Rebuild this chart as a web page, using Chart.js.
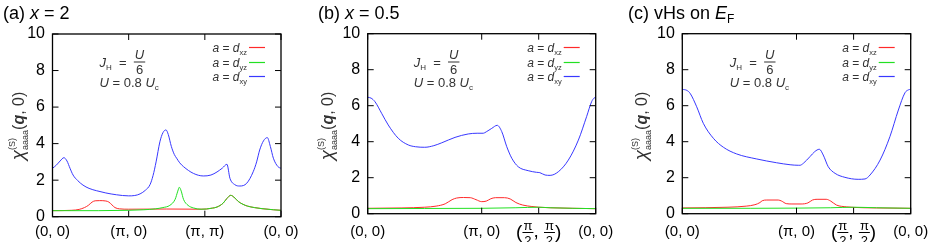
<!DOCTYPE html>
<html>
<head>
<meta charset="utf-8">
<script src="https://cdn.jsdelivr.net/npm/chart.js@4.4.1/dist/chart.umd.min.js"></script>
<style>
  body { margin: 0; background: #fff; width: 937px; height: 242px; overflow: hidden; position: relative; }
  canvas { position: absolute; top: 0; }
</style>
</head>
<body>
<canvas id="pa" width="312" height="242" style="left:0"></canvas>
<canvas id="pb" width="313" height="242" style="left:312px"></canvas>
<canvas id="pc" width="312" height="242" style="left:625px"></canvas>
<script>
// ---- data (q = position along the k-path, v = chi) ----
// (a) x = 2   path (0,0) -> (pi,0) -> (pi,pi) -> (0,0)
const aTicks = [0, 1, 2, 3];
const aTickLabels = ['(0, 0)', '(π, 0)', '(π, π)', '(0, 0)'];
const aXyQ = [0,0.05,0.10,0.15,0.19,0.23,0.27,0.33,0.40,0.48,0.58,0.70,0.84,1.0,1.08,1.15,1.22,1.28,1.32,1.36,1.41,1.45,1.49,1.52,1.56,1.60,1.63,1.67,1.72,1.85,1.98,2.08,2.16,2.23,2.29,2.33,2.395,2.46,2.55,2.635,2.68,2.72,2.77,2.82,2.86,2.90,2.96,3.0];
const aXyV = [2.65,2.82,3.05,3.23,3.05,2.65,2.28,1.98,1.73,1.55,1.42,1.3,1.2,1.14,1.16,1.25,1.45,1.75,2.25,3.0,4.1,4.6,4.75,4.5,3.85,3.4,3.2,2.95,2.74,2.37,2.23,2.28,2.45,2.66,2.87,2.1,1.75,1.68,1.83,2.46,3.0,3.65,4.15,4.33,3.85,3.2,2.74,2.65];
const aXzQ = [0,0.25,0.35,0.42,0.47,0.52,0.56,0.62,0.70,0.74,0.78,0.82,0.88,1.0,1.5,1.95,2.02,2.1,2.16,2.24,2.29,2.34,2.38,2.44,2.5,2.56,2.65,2.75,2.9,3.0];
const aXzV = [0.33,0.35,0.4,0.5,0.62,0.8,0.87,0.88,0.86,0.8,0.65,0.5,0.43,0.41,0.42,0.41,0.42,0.47,0.53,0.74,1.0,1.17,1.08,0.83,0.68,0.58,0.5,0.44,0.38,0.35];
const aYzQ = [0,0.6,1.0,1.2,1.35,1.45,1.54,1.61,1.645,1.665,1.69,1.72,1.78,1.85,1.95,2.02,2.1,2.16,2.24,2.29,2.34,2.38,2.44,2.5,2.56,2.65,2.75,2.9,3.0];
const aYzV = [0.33,0.33,0.35,0.38,0.43,0.5,0.62,0.95,1.4,1.61,1.4,0.95,0.62,0.48,0.41,0.42,0.47,0.53,0.74,1.0,1.17,1.08,0.83,0.68,0.58,0.5,0.44,0.38,0.35];

// (b) x = 0.5   path (0,0) -> (pi,0) -> (pi/2,pi/2) -> (0,0)
const bcTicks = [0, 1, 1.5, 2];
const bcTickLabels = ['(0, 0)', '(π, 0)', 'frac', '(0, 0)'];
const bXyQ = [0,0.03,0.064,0.122,0.18,0.268,0.356,0.42,0.50,0.58,0.65,0.766,0.882,0.96,1.014,1.04,1.088,1.136,1.176,1.22,1.264,1.32,1.408,1.48,1.51,1.556,1.60,1.672,1.76,1.848,1.92,1.964,1.985,2.0];
const bXyV = [6.47,6.42,6.22,5.58,4.93,4.19,3.82,3.72,3.69,3.78,3.94,4.24,4.43,4.47,4.47,4.55,4.74,4.91,4.56,3.72,3.08,2.61,2.39,2.3,2.28,2.15,2.13,2.33,2.98,4.09,5.39,6.22,6.42,6.47];
const bXzQ = [0,0.3,0.5,0.6,0.68,0.74,0.78,0.84,0.9,0.95,1.0,1.04,1.08,1.12,1.2,1.25,1.3,1.36,1.44,1.5,1.6,1.8,2.0];
const bXzV = [0.3,0.32,0.36,0.42,0.55,0.78,0.87,0.9,0.89,0.78,0.67,0.7,0.83,0.89,0.89,0.82,0.62,0.48,0.4,0.36,0.33,0.3,0.28];
const bYzQ = [0,0.5,1.0,1.3,1.5,1.6,1.8,2.0];
const bYzV = [0.28,0.29,0.3,0.33,0.36,0.33,0.3,0.28];

// (c) vHs on E_F
const cXyQ = [0,0.04,0.068,0.126,0.184,0.272,0.36,0.476,0.652,0.826,0.944,1.016,1.03,1.06,1.118,1.16,1.20,1.234,1.278,1.338,1.424,1.54,1.60,1.644,1.732,1.818,1.892,1.95,1.98,2.0];
const cXyV = [6.91,6.85,6.69,5.94,5.02,4.19,3.69,3.32,3.04,2.83,2.72,2.69,2.69,2.8,3.17,3.45,3.58,3.26,2.61,2.24,2.02,1.91,1.93,2.15,2.98,4.28,5.76,6.72,6.88,6.91];
const cXzQ = [0,0.4,0.56,0.636,0.68,0.70,0.74,0.84,0.87,0.91,0.96,1.04,1.1,1.14,1.18,1.26,1.3,1.35,1.44,1.5,1.7,2.0];
const cXzV = [0.32,0.36,0.42,0.5,0.62,0.72,0.76,0.76,0.7,0.56,0.54,0.54,0.6,0.76,0.8,0.8,0.7,0.48,0.38,0.35,0.32,0.3];
const cYzQ = [0,0.6,1.0,1.3,1.5,1.7,2.0];
const cYzV = [0.3,0.3,0.31,0.33,0.36,0.33,0.3];

const orbitals = ['xz', 'yz', 'xy'];
const colors = ['#ff2a2a', '#22e022', '#3838ff'];

const LS = 'Liberation Sans';
const txt = '#333';

function pts(q, v) { return q.map((x, i) => ({ x: x, y: v[i] })); }

// draw a run of text pieces: {t, f, dy, stay}
function rich(ctx, x, y, parts, align) {
  let w = 0;
  parts.forEach(p => { ctx.font = p.f; p.w = ctx.measureText(p.t).width; if (!p.stay) w += p.w; });
  if (align === 'right') x -= w;
  if (align === 'center') x -= w / 2;
  parts.forEach(p => {
    ctx.font = p.f;
    ctx.fillText(p.t, x, y + (p.dy || 0));
    if (!p.stay) x += p.w;
  });
  return w;
}

function frac(ctx, x, barY, num, den, fNum, fDen, gap, dh) {
  ctx.font = fNum; const wn = ctx.measureText(num).width;
  ctx.font = fDen; const wd = ctx.measureText(den).width;
  const w = Math.max(wn, wd) + 2;
  ctx.textAlign = 'center';
  ctx.font = fNum; ctx.fillText(num, x + w / 2, barY - gap);
  ctx.font = fDen; ctx.fillText(den, x + w / 2, barY + gap + dh);
  ctx.textAlign = 'left';
  ctx.fillRect(x, barY - 0.5, w, 1);
  return w;
}

function deco(p) {
  return {
    id: 'deco',
    afterDraw(chart) {
      const ctx = chart.ctx, a = chart.chartArea, xs = chart.scales.x, ys = chart.scales.y;
      ctx.save();
      // frame + inward ticks on all four sides
      ctx.strokeStyle = '#000';
      ctx.lineWidth = 1.3;
      ctx.strokeRect(a.left, a.top, a.right - a.left, a.bottom - a.top);
      ctx.lineWidth = 1;
      ctx.beginPath();
      ys.ticks.forEach(t => {
        const y = ys.getPixelForValue(t.value);
        ctx.moveTo(a.left, y); ctx.lineTo(a.left + 6, y);
        ctx.moveTo(a.right, y); ctx.lineTo(a.right - 6, y);
      });
      p.ticks.forEach(v => {
        const x = xs.getPixelForValue(v);
        ctx.moveTo(x, a.bottom); ctx.lineTo(x, a.bottom - 6);
        ctx.moveTo(x, a.top); ctx.lineTo(x, a.top + 6);
      });
      ctx.stroke();

      // x tick labels
      ctx.fillStyle = '#000';
      ctx.textBaseline = 'alphabetic';
      p.ticks.forEach((v, i) => {
        const x = xs.getPixelForValue(v);
        const lab = p.labels[i];
        if (lab === 'frac') {
          const big = '19px ' + LS, sm = '13px ' + LS;
          ctx.font = big;
          const wp = ctx.measureText('(').width, wc = ctx.measureText(', ').width;
          ctx.font = sm;
          const wf = Math.max(ctx.measureText('π').width, ctx.measureText('2').width) + 2;
          let xx = x - (wp * 2 + wc + wf * 2) / 2;
          ctx.font = big; ctx.fillText('(', xx, 238); xx += wp;
          xx += frac(ctx, xx, 232.5, 'π', '2', sm, sm, 2.5, 9.5);
          ctx.font = big; ctx.fillText(', ', xx, 237); xx += wc;
          xx += frac(ctx, xx, 232.5, 'π', '2', sm, sm, 2.5, 9.5);
          ctx.font = big; ctx.fillText(')', xx, 238);
        } else {
          ctx.font = '15px ' + LS;
          ctx.textAlign = 'center';
          ctx.fillText(lab, x, 236);
          ctx.textAlign = 'left';
        }
      });

      // panel title
      rich(ctx, p.titleX, 19, p.title, 'left');

      // y axis label, rotated
      ctx.save();
      ctx.fillStyle = txt;
      ctx.translate(p.ylabX, 126);
      ctx.rotate(-Math.PI / 2);
      rich(ctx, 0, 5, [
        { t: 'χ', f: 'italic 19px ' + LS },
        { t: '(S)', f: '9px ' + LS, dy: -9, stay: true },
        { t: 'aaaa', f: '9px ' + LS, dy: 4 },
        { t: '(', f: '16px ' + LS },
        { t: 'q', f: 'bold italic 16px ' + LS },
        { t: ', 0)', f: '16px ' + LS }
      ], 'center');
      ctx.restore();

      // parameters
      ctx.fillStyle = txt;
      const ax = a.left + p.annX;
      let w = rich(ctx, ax, 67, [
        { t: 'J', f: 'italic 13px ' + LS },
        { t: 'H', f: '8px ' + LS, dy: 3 },
        { t: '  =  ', f: '13px ' + LS }
      ], 'left');
      frac(ctx, ax + w, 62, 'U', '6', 'italic 13px ' + LS, '13px ' + LS, 3, 9);
      rich(ctx, ax, 87, [
        { t: 'U', f: 'italic 13px ' + LS },
        { t: ' = 0.8 ', f: '13px ' + LS },
        { t: 'U', f: 'italic 13px ' + LS },
        { t: 'c', f: '8px ' + LS, dy: 3 }
      ], 'left');

      // key: sample lines first, then the text
      const rows = [47.5, 62.5, 76.5];
      ctx.lineWidth = 1.2;
      orbitals.forEach((o, i) => {
        ctx.strokeStyle = colors[i];
        ctx.beginPath();
        ctx.moveTo(a.right - 32, rows[i]);
        ctx.lineTo(a.right - 16, rows[i]);
        ctx.stroke();
      });
      ctx.fillStyle = txt;
      orbitals.forEach((o, i) => {
        rich(ctx, a.right - 34, rows[i] + 4, [
          { t: 'a', f: 'italic 12px ' + LS },
          { t: ' = ', f: '12px ' + LS },
          { t: 'd', f: 'italic 12px ' + LS },
          { t: o, f: '7.5px ' + LS, dy: 3 }
        ], 'right');
      });
      ctx.restore();
    }
  };
}

function panel(id, series, xmax, geo, p) {
  new Chart(document.getElementById(id), {
    type: 'line',
    data: {
      datasets: series.map((s, i) => ({
        data: pts(s[0], s[1]),
        borderColor: colors[i],
        borderWidth: 1,
        pointRadius: 0,
        fill: false,
        cubicInterpolationMode: 'monotone',
        order: [2, 1, 0][i]
      }))
    },
    options: {
      responsive: false,
      animation: false,
      events: [],
      layout: { padding: { left: 0, right: geo.right, top: geo.top, bottom: geo.bottom } },
      plugins: { legend: { display: false }, tooltip: { enabled: false } },
      scales: {
        x: { type: 'linear', min: 0, max: xmax, display: false },
        y: {
          min: 0, max: 10,
          ticks: { stepSize: 2, color: '#000', padding: 7.5, font: { family: LS, size: 16 } },
          grid: { display: false, drawTicks: false },
          border: { display: false },
          afterFit(s) { s.width = geo.left; }
        }
      }
    },
    plugins: [deco(p)]
  });
}

const f18 = '18px ' + LS, i18 = 'italic 18px ' + LS;

panel('pa', [[aXzQ, aXzV], [aYzQ, aYzV], [aXyQ, aXyV]], 3,
  { left: 52.5, right: 31, top: 34, bottom: 25.3 },
  { ticks: aTicks, labels: aTickLabels, titleX: 3, ylabX: 19, annX: 47,
    title: [{ t: '(a) ', f: f18 }, { t: 'x', f: i18 }, { t: ' = 2', f: f18 }] });

panel('pb', [[bXzQ, bXzV], [bYzQ, bYzV], [bXyQ, bXyV]], 2,
  { left: 55.7, right: 29.3, top: 33.7, bottom: 28.3 },
  { ticks: bcTicks, labels: bcTickLabels, titleX: 6, ylabX: 16, annX: 46,
    title: [{ t: '(b) ', f: f18 }, { t: 'x', f: i18 }, { t: ' = 0.5', f: f18 }] });

panel('pc', [[cXzQ, cXzV], [cYzQ, cYzV], [cXyQ, cXyV]], 2,
  { left: 57.3, right: 26.3, top: 33.7, bottom: 28.3 },
  { ticks: bcTicks, labels: bcTickLabels, titleX: 3, ylabX: 17, annX: 47.5,
    title: [{ t: '(c) vHs on ', f: f18 }, { t: 'E', f: i18 }, { t: 'F', f: '12px ' + LS, dy: 4 }] });
</script>
</body>
</html>
